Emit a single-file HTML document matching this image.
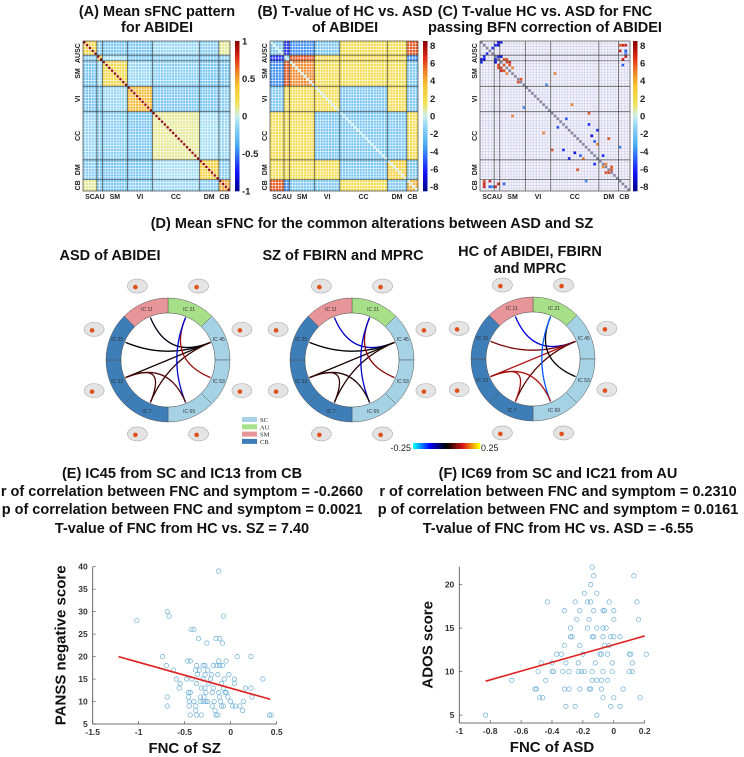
<!DOCTYPE html>
<html><head><meta charset="utf-8"><style>
body{margin:0;background:#fff}
svg{display:block;font-family:"Liberation Sans",Arial,sans-serif}
.t{font-weight:bold;font-size:14.5px;fill:#111;text-anchor:middle}
.tk{font-size:8.5px;font-weight:bold;fill:#333}
</style></head><body>
<svg id="s" width="744" height="757" viewBox="0 0 744 757">
<text class="t" x="157" y="16">(A) Mean sFNC pattern</text>
<text class="t" x="157" y="32">for ABIDEI</text>
<text class="t" x="345" y="16">(B) T-value of HC vs. ASD</text>
<text class="t" x="345" y="32">of ABIDEI</text>
<text class="t" x="545" y="16">(C) T-value HC vs. ASD for FNC</text>
<text class="t" x="545" y="32">passing BFN correction of ABIDEI</text>
<text class="t" x="372" y="228">(D) Mean sFNC for the common alterations between ASD and SZ</text>
<text class="t" x="110" y="260">ASD of ABIDEI</text>
<text class="t" x="343" y="260">SZ of FBIRN and MPRC</text>
<text class="t" x="530" y="256">HC of ABIDEI, FBIRN</text>
<text class="t" x="530" y="273">and MPRC</text>
<g class="t">
<text x="182" y="478">(E) IC45 from SC and IC13 from CB</text>
<text x="182" y="496">r of correlation between FNC and symptom = -0.2660</text>
<text x="182" y="514">p of correlation between FNC and symptom = 0.0021</text>
<text x="182" y="533">T-value of FNC from HC vs. SZ = 7.40</text>
</g>
<g class="t">
<text x="558" y="478">(F) IC69 from SC and IC21 from AU</text>
<text x="558" y="496">r of correlation between FNC and symptom = 0.2310</text>
<text x="558" y="514">p of correlation between FNC and symptom = 0.0161</text>
<text x="558" y="533">T-value of FNC from HC vs. ASD = -6.55</text>
</g>
</svg>
<script>
const NS="http://www.w3.org/2000/svg",S=document.getElementById('s');
function el(t,a,p){const e=document.createElementNS(NS,t);for(const k in a)e.setAttribute(k,a[k]);(p||S).appendChild(e);return e;}
const CS=[[0,[0,0,143]],[0.12,[20,20,255]],[0.3,[70,170,240]],[0.45,[160,220,244]],[0.5,[205,238,240]],[0.58,[240,228,90]],[0.7,[245,200,50]],[0.8,[240,130,40]],[0.9,[220,40,20]],[1,[140,0,0]]];
function jet(v){v=Math.max(0,Math.min(1,v));for(let i=0;i<CS.length-1;i++){const a=CS[i],b=CS[i+1];if(v<=b[0]){const f=(v-a[0])/(b[0]-a[0]);return `rgb(${a[1].map((c,k)=>Math.round(c+(b[1][k]-c)*f)).join(',')})`;}}return 'rgb(140,0,0)';}

// ---- matrix data ----
const domains=["SC","AU","SM","VI","CC","DM","CB"];
const domainSizes=[5,2,9,9,17,7,4];
const blockA=[[0.3,-0.2,-0.25,-0.25,-0.15,-0.2,0.1],[-0.2,0.3,-0.1,-0.25,-0.2,-0.25,-0.2],[-0.25,-0.1,0.3,-0.15,-0.2,-0.25,-0.25],[-0.25,-0.25,-0.15,0.45,-0.25,-0.25,-0.2],[-0.15,-0.2,-0.2,-0.25,0.1,-0.1,-0.15],[-0.2,-0.25,-0.25,-0.25,-0.1,0.35,-0.2],[0.1,-0.2,-0.25,-0.2,-0.15,-0.2,0.5]];
const blockB=[[-2,-6,-4,-2,2,2,6],[-6,-2,6,2,2,2,-4],[-4,6,5,2,2,2,-2],[-2,2,2,2,-2,2,-2],[2,2,2,-2,-2,-2,2],[2,2,2,2,-2,3,-2],[6,-4,-2,-2,2,-2,4]];
// sparse significant cells of (C): [row, col, t]
const sigRow=[0,0,1,1,5,5,6,6,7,7,8,8,9,5,1,1,11,14,22,23,25,27,29,31,33,34,35,37,40,41,43,44,45,46,49,50,50,51,3,4,6,2];
const sigCol=[6,7,6,51,6,7,8,9,9,10,8,10,11,1,49,50,26,13,32,15,38,30,38,41,39,45,40,49,43,36,44,46,46,45,3,6,8,5,51,51,50,4];
const sigT=[-7,-6,-7,7,-6,-7,6,6,6,7,6,6,5,-6,6,7,5,6,5,-4,6,-5,-6,-6,-7,6,-5,-4,-6,5,5,6,6,6,7,-5,-5,7,-5,-4,7,-6];
const matA=[],matB=[];
(function(){const idx=[];domainSizes.forEach((n,d)=>{for(let i=0;i<n;i++)idx.push(d);});
for(let i=0;i<53;i++){matA.push([]);matB.push([]);for(let j=0;j<53;j++){matA[i].push(i===j?1:blockA[idx[i]][idx[j]]);matB[i].push(i===j?0:blockB[idx[i]][idx[j]]);}}})();

function matrix(x0,y0,w,h,vals,vmin,vmax,name,sparse){
  const g=el('g',{});
  const cw=w/53,ch=h/53;
  el('rect',{x:x0,y:y0,width:w,height:h,fill:sparse?'#f4f2fb':'#fff'},g);
  if(!sparse){for(let i=0;i<53;i++)for(let j=0;j<53;j++){el('rect',{x:x0+j*cw,y:y0+i*ch,width:cw+0.1,height:ch+0.1,fill:jet((vals[i][j]-vmin)/(vmax-vmin))},g);}}
  else{for(let i=0;i<53;i++)el('rect',{x:x0+i*cw,y:y0+i*ch,width:cw,height:ch,fill:'#8a8aa0'},g);
    for(let k=0;k<sigRow.length;k++){const c=jet((sigT[k]-vmin)/(vmax-vmin));el('rect',{x:x0+sigCol[k]*cw,y:y0+sigRow[k]*ch,width:cw,height:ch,fill:c},g);el('rect',{x:x0+sigRow[k]*cw,y:y0+sigCol[k]*ch,width:cw,height:ch,fill:c},g);}}
  const gc=sparse?'#b8b8dc':'#ffffff',gw=sparse?0.4:0.7;
  for(let i=1;i<53;i++){el('line',{x1:x0+i*cw,y1:y0,x2:x0+i*cw,y2:y0+h,stroke:gc,'stroke-width':gw,'stroke-opacity':0.8},g);el('line',{x1:x0,y1:y0+i*ch,x2:x0+w,y2:y0+i*ch,stroke:gc,'stroke-width':gw,'stroke-opacity':0.8},g);}
  let acc=0;domainSizes.forEach((n,d)=>{const mid=acc+n/2;acc+=n;
    if(d<6){el('line',{x1:x0+acc*cw,y1:y0,x2:x0+acc*cw,y2:y0+h,stroke:'#444','stroke-width':0.7},g);el('line',{x1:x0,y1:y0+acc*ch,x2:x0+w,y2:y0+acc*ch,stroke:'#444','stroke-width':0.7},g);}
    const t=el('text',{x:x0+mid*cw,y:y0+h+8,'text-anchor':'middle','font-size':7,'font-weight':'bold',fill:'#222'},g);t.textContent=domains[d];
    const t2=el('text',{x:0,y:0,'text-anchor':'middle','font-size':7,'font-weight':'bold',fill:'#222',transform:`translate(${x0-3},${y0+mid*ch}) rotate(-90)`},g);t2.textContent=domains[d];});
  el('rect',{x:x0,y:y0,width:w,height:h,fill:'none',stroke:'#444','stroke-width':0.7},g);
}
function cbar(x,y,h,vmin,vmax,ticks,name){
  const g=el('g',{});
  for(let i=0;i<60;i++)el('rect',{x:x,y:y+h*i/60,width:4.5,height:h/60+0.3,fill:jet(1-i/59)},g);
  ticks.forEach(v=>{const yy=y+h*(vmax-v)/(vmax-vmin);const t=el('text',{x:x+7,y:yy+3.5,'font-size':9.5,'font-weight':'bold',fill:'#222'},g);t.textContent=v;});
}
matrix(83,41,147,150,matA,-1,1,'matrix-mean-sfnc',false);cbar(235,41,150,-1,1,[1,0.5,0,-0.5,-1],'colorbar-a');
matrix(270,41,148,150,matB,-8.5,8.5,'matrix-tvalue',false);cbar(423,41,150,-8.5,8.5,[8,6,4,2,0,-2,-4,-6,-8],'colorbar-b');
matrix(480,41,150,150,null,-8.5,8.5,'matrix-significant',true);cbar(633,41,150,-8.5,8.5,[8,6,4,2,0,-2,-4,-6,-8],'colorbar-c');

// ---- chord diagrams ----
const segColors=["#a8e08a","#a6d2e6","#a6d2e6","#a6d2e6","#3d7db8","#3d7db8","#3d7db8","#e8959a"];
const segLabels=["21","45","53","69","7","13","25","11"];
const edgeFrom=[7,6,5,4,0,0,5,4];
const edgeTo=[1,1,1,1,2,3,3,5];
const valASD=[-0.01,0.0,0.01,0.03,0.09,-0.1,0.05,0.04];
const valSZ=[-0.1,0.0,0.01,0.02,0.08,-0.1,0.02,0.03];
const valHC=[-0.11,0.07,0.1,0.05,0.0,-0.17,0.1,0.09];
function cmap(v){const t=Math.max(-1,Math.min(1,v/0.25));
  const stops=[[-1,[0,255,255]],[-0.5,[0,0,255]],[0,[0,0,0]],[0.5,[220,20,20]],[1,[255,255,0]]];
  for(let i=0;i<4;i++){const a=stops[i],b=stops[i+1];if(t<=b[0]){const f=(t-a[0])/(b[0]-a[0]);return `rgb(${a[1].map((c,k)=>Math.round(c+(b[1][k]-c)*f)).join(',')})`;}}return 'rgb(255,255,0)';}
function chord(cx,cy,vals,name){
  const g=el('g',{});
  const R=62,r=47;
  for(let k=0;k<8;k++){const a0=(k*45-90)*Math.PI/180,a1=((k+1)*45-90)*Math.PI/180;
    const p=`M${cx+R*Math.cos(a0)},${cy+R*Math.sin(a0)} A${R},${R} 0 0 1 ${cx+R*Math.cos(a1)},${cy+R*Math.sin(a1)} L${cx+r*Math.cos(a1)},${cy+r*Math.sin(a1)} A${r},${r} 0 0 0 ${cx+r*Math.cos(a0)},${cy+r*Math.sin(a0)}Z`;
    el('path',{d:p,fill:segColors[k],stroke:'#555','stroke-width':0.5},g);
    const am=(k*45+22.5-90)*Math.PI/180;
    const t=el('text',{x:cx+(r+8)*Math.cos(am),y:cy+(r+8)*Math.sin(am)+2,'font-size':5,'text-anchor':'middle',fill:'#333'},g);t.textContent='IC '+segLabels[k];
    const bx=cx+80*Math.cos(am),by=cy+80*Math.sin(am);
    el('ellipse',{cx:bx,cy:by,rx:10,ry:7,fill:'#e4e4e4',stroke:'#aaa','stroke-width':0.6},g);
    el('circle',{cx:bx-2,cy:by+1,r:2.3,fill:'#e0501a'},g);}
  el('circle',{cx:cx,cy:cy,r:r,fill:'#fff',stroke:'#555','stroke-width':0.5},g);
  for(let e=0;e<edgeFrom.length;e++){const a=(edgeFrom[e]*45+22.5-90)*Math.PI/180,b=(edgeTo[e]*45+22.5-90)*Math.PI/180;
    const x1=cx+(r-1)*Math.cos(a),y1=cy+(r-1)*Math.sin(a),x2=cx+(r-1)*Math.cos(b),y2=cy+(r-1)*Math.sin(b);
    el('path',{d:`M${x1},${y1} Q${cx},${cy} ${x2},${y2}`,fill:'none',stroke:cmap(vals[e]),'stroke-width':1.3},g);}
}
chord(168,360,valASD,'chord-asd');chord(352,360,valSZ,'chord-sz');chord(533,359,valHC,'chord-hc');
// legend
const legNames=["SC","AU","SM","CB"],legCols=["#a6d2e6","#a8e08a","#e8959a","#3d7db8"];
legNames.forEach((n,i)=>{const g=el('g',{});
  el('rect',{x:242,y:417+i*7.3,width:15,height:5,fill:legCols[i]},g);
  const t=el('text',{x:260,y:422+i*7.3,'font-size':6.5,'font-family':'Liberation Serif,serif',fill:'#222'},g);t.textContent=n;});
// chord colorbar
(function(){const g=el('g',{});
  for(let i=0;i<60;i++)el('rect',{x:413+i*67/60,y:443,width:67/60+0.3,height:6,fill:cmap(-0.25+0.5*i/59)},g);
  let t=el('text',{x:411,y:451,'font-size':9,'text-anchor':'end',fill:'#222'},g);t.textContent='-0.25';
  t=el('text',{x:481,y:451,'font-size':9,fill:'#222'},g);t.textContent='0.25';})();

// ---- scatter data ----
const eX=[-0.13,-0.69,-0.67,-0.08,-1.02,-0.43,-0.40,-0.35,-0.16,-0.12,-0.26,-0.09,-0.74,0.07,0.22,-0.70,-0.47,-0.44,-0.05,-0.13,-0.37,-0.30,-0.28,-0.19,-0.15,-0.12,-0.09,-0.62,-0.34,-0.38,-0.25,-0.36,-0.28,-0.14,-0.02,-0.21,-0.48,-0.42,-0.30,-0.22,-0.07,0.04,0.35,-0.59,-0.55,-0.37,-0.24,-0.10,0.04,-0.56,-0.32,-0.28,-0.19,-0.08,0.16,0.22,-0.46,-0.44,-0.27,-0.20,-0.13,-0.05,-0.06,-0.69,-0.46,-0.33,-0.29,-0.12,-0.03,0.23,-0.45,-0.40,-0.33,-0.30,-0.27,-0.25,-0.18,-0.11,0.0,0.14,-0.69,-0.45,-0.38,-0.20,-0.10,-0.08,0.02,0.05,0.10,-0.38,-0.17,0.13,-0.44,-0.37,-0.32,-0.16,-0.14,0.42,0.44];
const eY=[39,30,29,29,28,26,26,24,24,24,23,23,20,20,20,18,19,19,19,19,18,18,18,18,18,18,18,17,17,17,17,16,16,16,16,16,15,15,15,15,15,15,15,15,14,14,14,14,14,13,13,13,13,13,13,13,12,12,12,12,12,12,12,11,11,11,11,11,11,11,10,10,10,10,10,10,10,10,10,10,9,9,9,9,9,9,9,9,9,8,8,8,7,7,7,7,7,7,7];
const eFitX=[-1.22,0.43],eFitY=[20,10.5];
const eXTicks=[-1.5,-1,-0.5,0,0.5],eYTicks=[5,10,15,20,25,30,35,40];
const fX=[-0.14,-0.13,0.13,-0.15,-0.19,-0.11,-0.43,-0.25,-0.17,-0.15,-0.03,0.15,-0.32,-0.22,-0.13,-0.06,-0.07,0.0,-0.24,-0.16,0.0,0.16,-0.28,-0.17,-0.11,-0.07,-0.05,-0.27,-0.28,-0.14,-0.13,-0.07,-0.02,0.0,0.04,-0.32,-0.22,-0.06,-0.03,-0.37,-0.34,-0.20,-0.09,-0.08,-0.04,0.10,0.11,0.21,-0.47,-0.40,-0.31,-0.23,-0.12,-0.01,0.12,-0.49,-0.40,-0.39,-0.33,-0.29,-0.23,-0.21,-0.19,-0.14,-0.07,-0.01,0.10,0.12,-0.66,-0.44,-0.14,-0.11,-0.08,-0.04,-0.51,-0.50,-0.32,-0.29,-0.22,-0.16,-0.15,-0.08,0.06,-0.48,-0.46,-0.07,0.0,0.17,-0.31,-0.25,-0.02,0.04,-0.11,-0.83];
const fY=[22,21,21,20,19,19,18,18,18,18,18,18,17,17,17,17,17,17,16,16,16,16,15,15,15,15,15,14,14,14,14,14,14,14,14,13,13,13,13,12,12,12,12,12,12,12,12,12,11,11,11,11,11,11,11,10,10,10,10,10,10,10,10,10,10,10,10,10,9,9,9,9,9,9,8,8,8,8,8,8,8,8,8,7,7,7,7,7,6,6,6,6,5,5];
const fFitX=[-0.83,0.2],fFitY=[8.9,14.1];
const fXTicks=[-1,-0.8,-0.6,-0.4,-0.2,0,0.2],fYTicks=[5,10,15,20];

function scatter(o){
  const g=el('g',{});
  const sx=v=>o.x0+(v-o.xmin)/(o.xmax-o.xmin)*(o.x1-o.x0), sy=v=>o.y1-(v-o.ymin)/(o.ymax-o.ymin)*(o.y1-o.y0);
  el('line',{x1:o.x0,y1:o.y0,x2:o.x0,y2:o.y1,stroke:'#444','stroke-width':0.8},g);
  el('line',{x1:o.x0,y1:o.y1,x2:o.x1,y2:o.y1,stroke:'#444','stroke-width':0.8},g);
  o.xt.forEach(v=>{el('line',{x1:sx(v),y1:o.y1,x2:sx(v),y2:o.y1-3,stroke:'#444','stroke-width':0.6},g);const t=el('text',{x:sx(v),y:o.y1+11,'text-anchor':'middle',class:'tk'},g);t.textContent=v;});
  o.yt.forEach(v=>{el('line',{x1:o.x0,y1:sy(v),x2:o.x0+3,y2:sy(v),stroke:'#444','stroke-width':0.6},g);const t=el('text',{x:o.x0-5,y:sy(v)+3,'text-anchor':'end',class:'tk'},g);t.textContent=v;});
  for(let i=0;i<o.px.length;i++){const c=el('circle',{cx:sx(o.px[i]),cy:sy(o.py[i]),r:2.2,fill:'none',stroke:'#6aaed6','stroke-width':0.7},g);
    
    }
  const l=el('line',{x1:sx(o.fx[0]),y1:sy(o.fy[0]),x2:sx(o.fx[1]),y2:sy(o.fy[1]),stroke:'#e02020','stroke-width':1.6},g);
  
  
  let t=el('text',{x:(o.x0+o.x1)/2,y:o.y1+29,'text-anchor':'middle','font-size':15,'font-weight':'bold',fill:'#111'},g);t.textContent=o.xl;
  t=el('text',{x:0,y:0,'text-anchor':'middle','font-size':15,'font-weight':'bold',fill:'#111',transform:`translate(${o.x0-27},${(o.y0+o.y1)/2}) rotate(-90)`},g);t.textContent=o.yl;
}
scatter({name:'scatter-e',x0:92.7,x1:276.7,y0:566.7,y1:724,xmin:-1.5,xmax:0.5,ymin:5,ymax:40,xt:eXTicks,yt:eYTicks,px:eX,py:eY,fx:eFitX,fy:eFitY,xl:'FNC of SZ',yl:'PANSS negative score'});
scatter({name:'scatter-f',x0:459.3,x1:644.7,y0:566.7,y1:723,xmin:-1,xmax:0.2,ymin:4.1,ymax:22.05,xt:fXTicks,yt:fYTicks,px:fX,py:fY,fx:fFitX,fy:fFitY,xl:'FNC of ASD',yl:'ADOS score'});
</script>
</body></html>
